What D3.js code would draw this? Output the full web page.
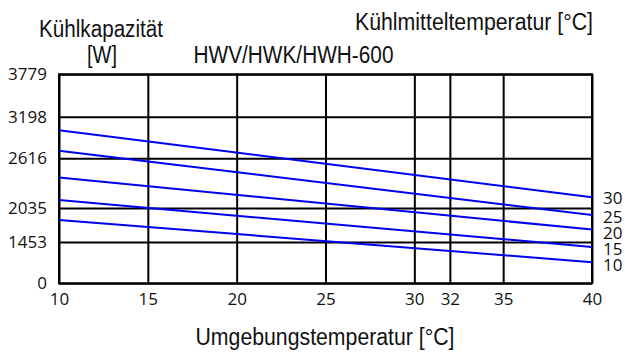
<!DOCTYPE html>
<html>
<head>
<meta charset="utf-8">
<script src="https://cdn.jsdelivr.net/npm/d3@7"></script>
<style>
  html, body { margin: 0; padding: 0; background: #fff; }
  svg { display: block; }
  .title { font-family: "Liberation Sans Narrow", "Liberation Sans", Arial, sans-serif; font-size: 23px; fill: #111; }
  .num { font-family: "Open Sans", "Noto Sans", sans-serif; font-size: 17px; fill: #111; }
</style>
</head>
<body>
<svg id="chart"></svg>
<script>
// ambient temperature ticks [°C]
var xTicks = [10, 15, 20, 25, 30, 32, 35, 40];
// cooling capacity ticks [W]
var yTicks = [0, 1453, 2035, 2616, 3198, 3779];
// where each y tick sits, as share of plot height (the chart's axis is not linear)
var yStops = [0, 0.198, 0.360, 0.598, 0.797, 1];

// coolant temperature series [°C]
var coolant = [30, 25, 20, 15, 10];
// capacity at ambient 10 °C and 40 °C [W]
var ambient = [10, 40];
var cap30 = [3010, 2160];
var cap25 = [2722, 1915];
var cap20 = [2392, 1665];
var cap15 = [2128, 1275];
var cap10 = [1830, 740];

(function() {
    'use strict';

    var W = 625, H = 353;
    var margin = { top: 74.3, right: 33, bottom: 69.7, left: 59 };
    var width = W - margin.left - margin.right;
    var height = H - margin.top - margin.bottom;

    var svg = d3.select('#chart').attr('width', W).attr('height', H);
    var g = svg.append('g').attr('transform', 'translate(' + margin.left + ',' + margin.top + ')');

    var x = d3.scaleLinear().domain([10, 40]).range([0, width]);
    var y = d3.scaleLinear()
        .domain(yTicks)
        .range(yStops.map(function(s) { return height * (1 - s); }));

    // grid + tick labels
    var xAxis = g.append('g')
        .attr('transform', 'translate(0,' + height + ')')
        .call(d3.axisBottom(x).tickValues(xTicks).tickSize(-height).tickPadding(10).tickFormat(d3.format('d')));
    var yAxis = g.append('g')
        .call(d3.axisLeft(y).tickValues(yTicks).tickSize(-width).tickPadding(12).tickFormat(d3.format('d')));

    [xAxis, yAxis].forEach(function(ax) {
        ax.attr('font-family', null).attr('font-size', null);
        ax.select('.domain').remove();
        ax.selectAll('line').attr('stroke', '#000').attr('stroke-width', 2);
        ax.selectAll('text').attr('class', 'num').attr('fill', null);
    });

    g.append('rect')
        .attr('width', width).attr('height', height)
        .attr('fill', 'none').attr('stroke', '#000').attr('stroke-width', 2);

    // series
    var series = [cap30, cap25, cap20, cap15, cap10].map(function(vals, i) {
        return {
            name: coolant[i],
            points: ambient.map(function(a, j) { return { a: a, v: vals[j] }; })
        };
    });

    var line = d3.line().x(function(d) { return x(d.a); }).y(function(d) { return y(d.v); });

    g.selectAll('.series').data(series).enter()
        .append('path')
            .attr('class', 'series')
            .attr('d', function(s) { return line(s.points); })
            .attr('fill', 'none')
            .attr('stroke', '#0000f0')
            .attr('stroke-width', 2);

    // end labels, nudged apart so they don't collide
    var labelY = series.map(function(s) { return y(s.points[s.points.length - 1].v) + 2.5; });
    labelY[0] -= 2;
    for (var i = 1; i < labelY.length; i++) {
        if (labelY[i] - labelY[i - 1] < 15.5) labelY[i] = labelY[i - 1] + 15.5;
    }
    g.selectAll('.end').data(series).enter()
        .append('text')
            .attr('class', 'num end')
            .attr('x', width + 11)
            .attr('y', function(s, i) { return labelY[i]; })
            .attr('dy', '0.35em')
            .text(function(s) { return s.name; });

    // titles
    function title(txt, cx, by, len) {
        svg.append('text')
            .attr('class', 'title')
            .attr('x', cx).attr('y', by)
            .attr('text-anchor', 'middle')
            .attr('textLength', len)
            .attr('lengthAdjust', 'spacingAndGlyphs')
            .text(txt);
    }
    title('Kühlkapazität', 101, 37, 124);
    title('[W]', 102, 63, 30);
    title('HWV/HWK/HWH-600', 293.5, 63, 200);
    title('Kühlmitteltemperatur [°C]', 474, 30, 238);
    title('Umgebungstemperatur [°C]', 325, 345, 259);
})();
</script>
</body>
</html>
